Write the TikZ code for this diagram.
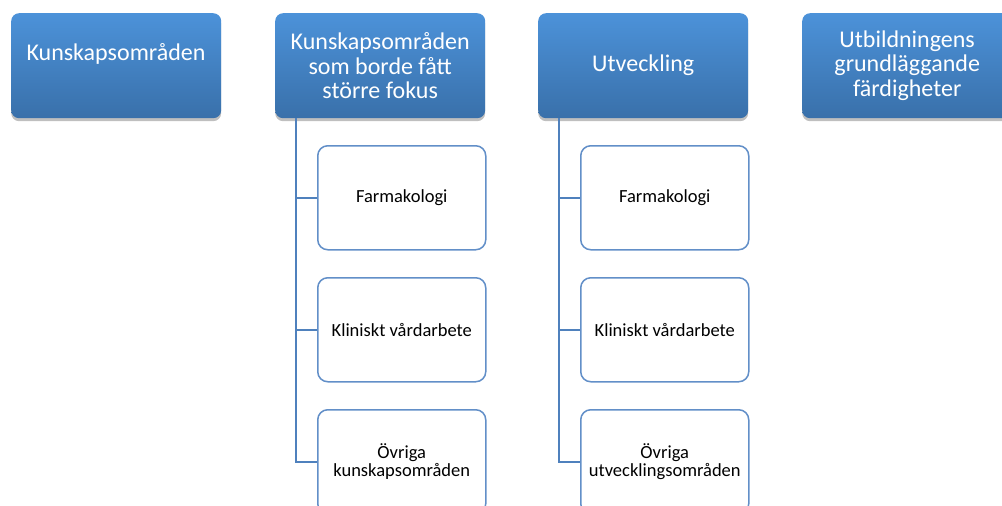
\documentclass[tikz,border=0pt]{standalone}
\usepackage{fontspec}
\setmainfont{Carlito}
\usetikzlibrary{shadows,calc}
\definecolor{topblue}{RGB}{76,146,217}
\definecolor{botblue}{RGB}{57,112,170}
\definecolor{linkblue}{RGB}{79,129,189}
\definecolor{childedge}{RGB}{98,143,200}
\tikzset{
  headbox/.style={rectangle, rounded corners=8pt, minimum width=210pt, minimum height=105pt,
    inner sep=0pt, anchor=north west, top color=topblue, bottom color=botblue, draw=none,
    drop shadow={shadow xshift=0pt, shadow yshift=-3pt, opacity=0.25, fill=black}},
  headtext/.style={text=white, align=center, font=\fontsize{24}{24.5}\selectfont},
  childbox/.style={rectangle, rounded corners=10pt, minimum width=168pt, minimum height=104pt,
    inner sep=0pt, anchor=north west, fill=white, draw=childedge, line width=1.5pt,
    align=center, font=\fontsize{18.5}{18}\selectfont},
  link/.style={draw=linkblue, line width=2pt}
}
\begin{document}
\begin{tikzpicture}[x=1pt,y=1pt]
\useasboundingbox (0,0) rectangle (1002,-506);
\clip (0,0) rectangle (1002,-506);
% heads
\node[headbox] (h1) at (11,-13) {};
\node[headtext] (t1) at (116,-54) {Kunskapsområden};
\node[headbox, headtext] (h2) at (275,-13) {Kunskapsområden\\som borde fått\\större fokus};
\node[headbox, headtext] (h3) at (538,-13) {Utveckling};
\node[headbox, headtext] (h4) at (802,-13) {Utbildningens\\grundläggande\\färdigheter};
% children column 2
\node[childbox] (a1) at (317,-145) {Farmakologi};
\node[childbox] (a2) at (317,-277) {Kliniskt vårdarbete};
\node[childbox] (a3) at (317,-409) {Övriga\\kunskapsområden};
% children column 3
\node[childbox] (b1) at (580,-145) {Farmakologi};
\node[childbox] (b2) at (580,-277) {Kliniskt vårdarbete};
\node[childbox] (b3) at (580,-409) {Övriga\\utvecklingsområden};
% connectors
\coordinate (p2) at ($(h2.south west)+(21,0)$);
\coordinate (p3) at ($(h3.south west)+(21,0)$);
\draw[link] (p2) |- (a1.west);
\draw[link] (p2) |- (a2.west);
\draw[link] (p2) |- (a3.west);
\draw[link] (p3) |- (b1.west);
\draw[link] (p3) |- (b2.west);
\draw[link] (p3) |- (b3.west);
\end{tikzpicture}
\end{document}
